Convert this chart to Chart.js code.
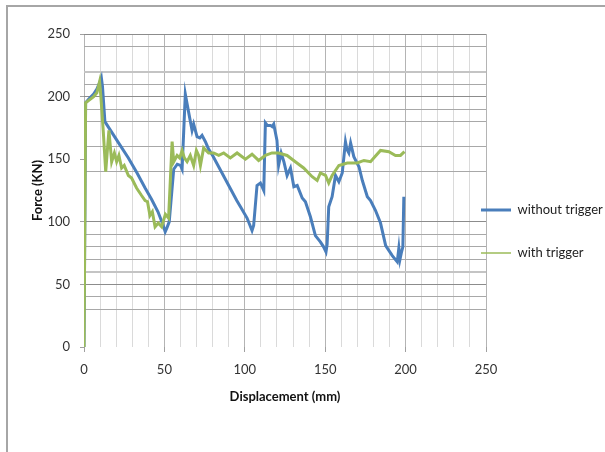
<!DOCTYPE html>
<html>
<head>
<meta charset="utf-8">
<script src="https://cdn.jsdelivr.net/npm/chart.js@4.4.1/dist/chart.umd.min.js"></script>
<style>
body{margin:0;background:#fff}
#wrap{position:relative;width:605px;height:452px}
#frame{position:absolute;left:6px;top:5px;right:0;bottom:0;border-left:2px solid #a6a6a6;border-top:2px solid #a6a6a6;pointer-events:none}
</style>
</head>
<body>
<div id="wrap">
  <canvas id="myLineChart" width="605" height="452"></canvas>
  <div id="frame"></div>
</div>
<script>
// without trigger (blue)
var dispWithout = [0, 1, 3, 6, 8, 10, 10.8, 11.5, 13, 17, 22, 27.6, 33, 38, 42, 46, 49, 50.5, 51.5, 53, 55.8, 58, 60, 61, 63, 65, 67.2, 68.2, 70.3, 72, 73.4, 75.5, 77.5, 80, 85, 90, 95, 97.3, 101.4, 104.5, 105.5, 107.6, 109.7, 111.8, 112.8, 114, 115.9, 117, 118, 120, 121, 122.6, 124.3, 126.3, 128.4, 130.5, 132.6, 135.7, 137.7, 140.8, 143.9, 147, 149, 150.5, 151.2, 152.2, 154.3, 156.4, 158.5, 160.6, 162.6, 163.5, 164.7, 165.8, 167.8, 171, 173.1, 176.2, 178.2, 181.3, 184.4, 187.6, 191.7, 194.8, 195.8, 196.5, 197.3, 198.3, 198.9];
var forceWithout = [0, 195, 198, 202, 206, 212, 215, 208, 180, 172, 162, 151, 139, 127, 118, 108, 98, 92, 95, 100, 142, 146, 145, 142, 202, 188, 173, 178, 168, 167, 169, 164, 158, 153, 141, 129, 117, 112, 103, 93, 97, 129, 131, 125, 179, 177, 177, 176, 178, 165, 145, 155, 148, 137, 143, 128, 129, 119, 116, 104, 89, 84, 80, 76, 82, 112, 120, 137, 132, 139, 164, 158, 155, 163, 152, 144, 133, 120, 117, 109, 99, 81, 73, 68, 79, 70, 75, 80, 120];

// with trigger (green)
var dispWith = [0, 1, 3, 6, 8, 9.7, 10.5, 12, 13.5, 15.5, 17.2, 18.9, 20.3, 21.7, 23.4, 25, 27.6, 29.6, 32.7, 35.8, 38, 39.5, 41, 42.5, 44.2, 46.2, 48.3, 50.6, 52.6, 54.8, 55.8, 57.9, 59.5, 61, 62.4, 64.1, 66.1, 68.2, 69.9, 71.3, 72.4, 74.4, 77.5, 80.6, 83.8, 86.9, 91, 95.2, 97.3, 100.4, 104.5, 108.6, 112.8, 116.9, 121, 126.3, 131.4, 136.6, 141.9, 145, 147, 150.2, 152.2, 154.3, 158.5, 163.7, 169.9, 174.1, 178.2, 180.2, 184.4, 189.6, 193.7, 196.8, 199.3];
var forceWith = [0, 195, 197, 200, 203, 212, 200, 172, 140, 173, 148, 155, 148, 153, 143, 145, 137, 135, 127, 121, 117, 116, 105, 108, 96, 99, 96, 106, 103, 164, 148, 153, 151, 157, 151, 148, 153, 145, 157, 153, 145, 159, 155, 155, 153, 155, 151, 155, 153, 150, 154, 149, 153, 155, 155, 153, 148, 143, 136, 133, 139, 137, 131, 137, 145, 147, 147, 149, 148, 151, 157, 156, 153, 153, 156];

var seriesNames = ['without trigger', 'with trigger'];
var yGridTicks = [0, 30, 40, 50, 60, 70, 80, 90, 100, 140, 150, 160, 180, 190, 200, 210, 220, 240, 250];

function toPoints(xs, ys){
    return xs.map(function(x, i){ return {x: x, y: ys[i]}; });
}

Chart.defaults.font.family = 'Lato';
Chart.defaults.font.size = 13;
Chart.defaults.color = '#333';

// nudge the legend so it sits where the original one is
var legendShift = {
    id: 'legendShift',
    afterLayout: function(chart){
        chart.legend.left -= 35;
        chart.legend.top += 6;
        chart.legend.bottom += 6;
    }
};

var data = {
    datasets: [
        {
            label: seriesNames[0],
            data: toPoints(dispWithout, forceWithout),
            borderColor: '#4a7ebb',
            backgroundColor: '#4a7ebb',
            borderWidth: 3,
            pointRadius: 0,
            fill: false,
            order: 1
        },
        {
            label: seriesNames[1],
            data: toPoints(dispWith, forceWith),
            borderColor: '#9bbb59',
            backgroundColor: '#9bbb59',
            borderWidth: 3,
            pointRadius: 0,
            fill: false,
            order: 0
        }
    ]
};

var ctx = document.getElementById('myLineChart');
var myLineChart = new Chart(ctx, {
    type: 'scatter',
    data: data,
    plugins: [legendShift],
    options: {
        responsive: false,
        animation: false,
        showLine: true,
        layout: {padding: {top: 34, left: 0, bottom: 35, right: 0}},
        plugins: {
            tooltip: {enabled: false},
            legend: {
                position: 'right',
                maxWidth: 119,
                labels: {
                    usePointStyle: true,
                    pointStyle: 'line',
                    pointStyleWidth: 30,
                    padding: 30,
                    color: '#222',
                    sort: function(a, b){ return a.datasetIndex - b.datasetIndex; },
                    generateLabels: function(chart){
                        var items = Chart.defaults.plugins.legend.labels.generateLabels(chart);
                        items.forEach(function(it){
                            if (it.datasetIndex === 1) it.lineWidth = 1.5;
                        });
                        return items;
                    }
                }
            }
        },
        scales: {
            x: {
                type: 'linear',
                min: 0,
                max: 250,
                afterFit: function(scale){ scale.height = 70; },
                border: {display: false},
                grid: {
                    color: function(c){ return c.tick.value % 50 === 0 ? '#b4b4b4' : '#dadada'; },
                    tickColor: function(c){ return c.tick.value % 50 === 0 ? '#a0a0a0' : 'transparent'; },
                    tickLength: 5
                },
                ticks: {
                    stepSize: 10,
                    autoSkip: false,
                    maxRotation: 0,
                    padding: 10,
                    callback: function(v){ return v % 50 === 0 ? v : ''; }
                },
                title: {
                    display: true,
                    text: 'Displacement (mm)',
                    color: '#111',
                    font: {weight: 'bold'},
                    padding: {top: 0, bottom: 12}
                }
            },
            y: {
                type: 'linear',
                min: 0,
                max: 250,
                afterFit: function(scale){ scale.width = 84; },
                afterBuildTicks: function(scale){
                    scale.ticks = yGridTicks.map(function(v){ return {value: v}; });
                },
                border: {display: false},
                grid: {
                    color: function(c){
                        var v = c.tick.value;
                        if (v === 0 || v === 150) return 'transparent';
                        if (v === 60 || v === 220) return '#c4c4c4';
                        return v % 50 === 0 ? '#8c8c8c' : '#a8a8a8';
                    },
                    lineWidth: function(c){
                        var v = c.tick.value;
                        return (v === 60 || v === 220) ? 2 : 1;
                    },
                    tickColor: function(c){ return c.tick.value % 50 === 0 ? '#a0a0a0' : 'transparent'; },
                    tickLength: 4
                },
                ticks: {
                    autoSkip: false,
                    padding: 10,
                    callback: function(v){ return v % 50 === 0 ? v : ''; }
                },
                title: {
                    display: true,
                    text: 'Force (KN)',
                    color: '#111',
                    font: {weight: 'bold'},
                    padding: {top: 30, bottom: 0}
                }
            }
        }
    }
});
</script>
</body>
</html>
